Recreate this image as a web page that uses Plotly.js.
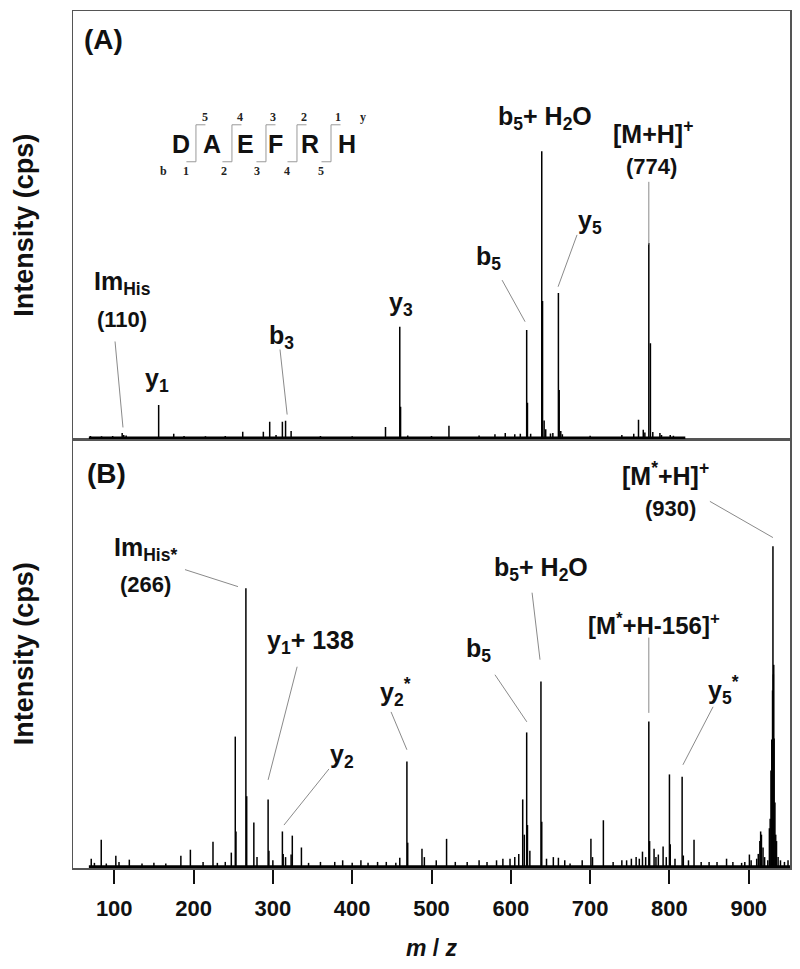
<!DOCTYPE html>
<html>
<head>
<meta charset="utf-8">
<script src="https://cdn.plot.ly/plotly-3.0.1.min.js"></script>
<style>
  html, body { margin: 0; padding: 0; background: #fff; }
  #chart { width: 800px; height: 969px; }
</style>
</head>
<body>
<div id="chart"></div>
<script>
// MS/MS spectra of DAEFRH: (A) native peptide, (B) modified peptide.
// Peak lists; intensities are relative (base peak = 100).

const mzA = [70, 84, 98, 110, 112, 115, 156, 175, 188, 215, 240, 262, 288, 296, 304, 312, 316, 323,
  360, 400, 442, 460, 461, 470, 500, 522, 560, 580, 593, 605, 612, 620, 621, 625,
  639, 640, 642, 644, 650, 653, 660, 661, 663, 665, 700, 740, 755, 761, 767, 769,
  774, 776, 779, 788, 790, 801, 805];
const intA = [0.6, 0.5, 0.6, 1.7, 1.0, 0.8, 11.4, 1.4, 0.6, 0.5, 0.6, 2.1, 2.1, 5.6, 1.0, 5.6, 5.9, 2.4,
  0.6, 0.5, 3.8, 38.7, 10.8, 0.8, 0.6, 4.2, 0.8, 1.2, 1.7, 1.2, 1.4, 37.6, 12.2, 1.4,
  100, 47.7, 6.0, 3.0, 1.5, 1.7, 50.5, 16.7, 2.4, 1.2, 0.7, 1.0, 1.4, 6.3, 2.8, 1.8,
  68, 33, 2.0, 1.7, 1.0, 1.0, 0.7];

const mzB = [71, 75, 83.6, 90, 102, 106, 119, 135, 150, 165, 184, 196, 212, 224.5, 230, 240,
  247.6, 252.6, 253.5, 266, 267, 276, 280, 294, 295, 300, 312, 313, 316, 323, 324.5, 336, 345,
  360, 378, 388, 400, 411, 420, 432, 443, 455, 460, 469, 470, 488, 491, 506, 519, 530,
  545, 560, 570, 582, 590, 599, 605, 610, 615, 617, 620, 621, 624, 638, 639, 645,
  653.6, 660, 668, 674.7, 690, 701, 703, 716.7, 729, 740, 746, 752, 758, 762, 766, 770,
  774, 775, 780.6, 783, 786, 792, 796, 800, 801, 807, 816, 817.5, 824, 831, 840, 850,
  860, 872, 880, 891, 895, 900.8, 903, 910, 912, 914, 915, 916, 918, 920, 924, 926, 927,
  928, 929, 930, 930.5, 931, 931.5, 932, 933, 934, 935, 937, 940, 945, 949.5];
const intB = [2.5, 1.2, 8.4, 1.0, 3.4, 1.5, 2.2, 1.0, 1.2, 1.0, 3.4, 5.3, 1.5, 7.8, 1.2, 1.5,
  4.4, 40.6, 11, 86.9, 22, 13.8, 3.0, 21, 5.0, 2.0, 11, 4.0, 3.0, 3.8, 9.7, 6.0, 1.2,
  1.5, 1.5, 2.0, 1.2, 2.0, 1.2, 1.5, 1.5, 1.2, 2.8, 32.8, 7.5, 5.6, 3.0, 2.0, 8.7, 1.5,
  1.5, 2.0, 1.5, 2.0, 2.5, 2.5, 3.0, 4.0, 21, 10, 41.9, 13, 5.0, 57.8, 14, 2.5,
  3.0, 2.8, 2.0, 1.0, 2.0, 8.7, 3.0, 14.5, 1.5, 2.0, 2.0, 2.5, 3.0, 2.5, 4.7, 3.0,
  45.3, 8.0, 5.6, 3.0, 3.8, 6.3, 3.0, 28.8, 7.0, 2.5, 28.1, 3.5, 2.0, 8.4, 1.5, 1.5,
  1.5, 2.5, 1.5, 1.2, 1.5, 3.8, 2.0, 2.5, 4.0, 8.0, 11, 10, 6.0, 3.0, 2.0, 12, 15,
  30, 39.7, 55, 100, 60, 63, 40, 20, 10, 8.0, 3.0, 2.0, 1.5, 2.0];

const scanA = [68, 820];
const scanB = [68, 952];
const xTicks = [100, 200, 300, 400, 500, 600, 700, 800, 900];

const sequence = ['D', 'A', 'E', 'F', 'R', 'H'];
const yIons = ['5', '4', '3', '2', '1', 'y'];
const bIons = ['b', '1', '2', '3', '4', '5'];

const FONT = 'Liberation Sans, Arial, sans-serif';
const SERIF = 'Liberation Serif, Times New Roman, serif';
const LEADER = '#8a8a8a';
const FRAME = '#555555';

// --- sticks ---------------------------------------------------------------

function sticks(mz, inten) {
  const x = [];
  const y = [];
  mz.forEach((m, i) => {
    x.push(m, m, null);
    y.push(0, inten[i], null);
  });
  return { x, y };
}

function stickTrace(mz, inten, xa, ya) {
  const s = sticks(mz, inten);
  return {
    x: s.x, y: s.y, xaxis: xa, yaxis: ya, mode: 'lines',
    line: { color: '#000', width: 1.5 }, hoverinfo: 'skip', showlegend: false,
  };
}

function baselineTrace(scan, xa, ya, width) {
  return {
    x: scan, y: [0, 0], xaxis: xa, yaxis: ya, mode: 'lines',
    line: { color: '#000', width }, hoverinfo: 'skip', showlegend: false,
  };
}

// --- labels ---------------------------------------------------------------

// [text, mz, intensity, size]
const labelsA = [
  ['(A)', 87, 138.8, 28],
  ['Im<sub>His</sub>', 110, 54, 25],
  ['(110)', 110, 41.2, 22],
  ['y<sub>1</sub>', 154, 20, 25],
  ['b<sub>3</sub>', 310.5, 35.3, 25],
  ['y<sub>3</sub>', 461.8, 46.7, 25],
  ['b<sub>5</sub>', 572.4, 62.8, 25],
  ['y<sub>5</sub>', 700, 75.4, 25],
  ['b<sub>5</sub>+ H<sub>2</sub>O', 643, 111.6, 25],
  ['[M+H]<sup>+</sup>', 779.5, 106.7, 25],
  ['(774)', 778, 94.8, 22],
];
const leadersA = [
  [101, 33.6, 111, 3.6],
  [309, 30.8, 318, 8.1],
  [589, 55, 618, 40.5],
  [683.5, 70.8, 659.6, 52.7],
  [774, 89.3, 774, 67.4],
];

const labelsB = [
  ['(B)', 89.7, 122.7, 28],
  ['Im<sub>His*</sub>', 140, 99, 25],
  ['(266)', 138.8, 88, 22],
  ['y<sub>1</sub>+ 138', 347, 70, 25],
  ['y<sub>2</sub><sup>*</sup>', 455, 54.6, 25],
  ['y<sub>2</sub>', 387.5, 34.6, 25],
  ['b<sub>5</sub>', 558.8, 67.7, 25],
  ['b<sub>5</sub>+ H<sub>2</sub>O', 638.4, 93, 25],
  ['[M<sup>*</sup>+H-156]<sup>+</sup>', 780.7, 75.8, 24],
  ['y<sub>5</sub><sup>*</sup>', 867.8, 55.2, 25],
  ['[M<sup>*</sup>+H]<sup>+</sup>', 794.5, 122.4, 25],
  ['(930)', 800.8, 111.8, 22],
];
const leadersB = [
  [189.2, 92.7, 256, 87.4],
  [330.6, 62.4, 294, 27.1],
  [449, 48.3, 469, 36.5],
  [370.7, 30.5, 314, 13],
  [626.8, 85.5, 636.8, 64.6],
  [580, 59.9, 620.2, 45.2],
  [774, 71.5, 774, 48],
  [855, 49.9, 817, 31.8],
  [851, 114, 930.5, 102.7],
];

function textAnn(row, xref, yref) {
  const [text, x, y, size] = row;
  return {
    text, x, y, xref, yref, showarrow: false,
    xanchor: 'center', yanchor: 'middle',
    font: { family: FONT, size, color: '#111', weight: 'bold' },
  };
}

function leaderShape(row, xref, yref) {
  const [x0, y0, x1, y1] = row;
  return { type: 'line', xref, yref, x0, y0, x1, y1, line: { color: LEADER, width: 1 } };
}

// --- sequence inset (panel A) ---------------------------------------------

const seqX = [184.4, 223.5, 265.2, 303, 347.2, 393.8];
const yNumX = [214.4, 258.5, 300, 339.2, 382, 413.5];
const bNumX = [162.7, 190.4, 238.3, 280, 317.8, 360.7];
const cutX = [203, 248.4, 291.3, 330.4, 373.3];

function insetAnnotations() {
  const out = [];
  sequence.forEach((s, i) => out.push({
    text: s, x: seqX[i], y: 102.5, xref: 'x2', yref: 'y2', showarrow: false,
    font: { family: FONT, size: 25, color: '#111', weight: 'bold' },
  }));
  yIons.forEach((s, i) => out.push({
    text: s, x: yNumX[i], y: 111.8, xref: 'x2', yref: 'y2', showarrow: false,
    font: { family: SERIF, size: 12, color: '#222', weight: 'bold' },
  }));
  bIons.forEach((s, i) => out.push({
    text: s, x: bNumX[i], y: 93, xref: 'x2', yref: 'y2', showarrow: false,
    font: { family: SERIF, size: 12, color: '#222', weight: 'bold' },
  }));
  return out;
}

function insetShapes() {
  return cutX.map((c) => ({
    type: 'path', xref: 'x2', yref: 'y2',
    path: `M ${c - 12} 96.3 L ${c} 96.3 L ${c} 109.2 L ${c + 12} 109.2`,
    line: { color: '#9a9a9a', width: 1 },
  }));
}

// --- layout ---------------------------------------------------------------

const frame = {
  showline: true, linecolor: FRAME, linewidth: 1.5, mirror: true,
  showgrid: false, zeroline: false,
};

const yTitle = {
  text: 'Intensity (cps)', standoff: 30,
  font: { family: FONT, size: 27, color: '#111', weight: 'bold' },
};

const layout = {
  width: 800, height: 969,
  margin: { l: 73, r: 10, t: 11, b: 101 },
  paper_bgcolor: '#fff', plot_bgcolor: '#fff',
  showlegend: false,
  xaxis: {
    ...frame, anchor: 'y', range: [48, 952],
    tickvals: xTicks, ticks: 'outside', ticklen: 14, tickwidth: 2, tickcolor: '#111',
    ticklabelstandoff: 6,
    tickfont: { family: FONT, size: 22, color: '#111', weight: 'bold' },
    title: {
      text: '<i>m</i> / <i>z</i>', standoff: 20,
      font: { family: FONT, size: 23, color: '#111', weight: 'bold' },
    },
  },
  yaxis: {
    ...frame, domain: [0, 0.5], range: [-0.4, 133.3],
    showticklabels: false, ticks: '', title: yTitle,
  },
  xaxis2: {
    ...frame, anchor: 'y2', matches: 'x', range: [48, 952],
    showticklabels: false, ticks: '',
  },
  yaxis2: {
    ...frame, domain: [0.5, 1], range: [-0.6, 148.9],
    showticklabels: false, ticks: '', title: yTitle,
  },
  annotations: [
    ...labelsA.map((r) => textAnn(r, 'x2', 'y2')),
    ...labelsB.map((r) => textAnn(r, 'x', 'y')),
    ...insetAnnotations(),
  ],
  shapes: [
    ...leadersA.map((r) => leaderShape(r, 'x2', 'y2')),
    ...leadersB.map((r) => leaderShape(r, 'x', 'y')),
    ...insetShapes(),
  ],
};

const traces = [
  baselineTrace(scanA, 'x2', 'y2', 2.5),
  stickTrace(mzA, intA, 'x2', 'y2'),
  baselineTrace(scanB, 'x', 'y', 3),
  stickTrace(mzB, intB, 'x', 'y'),
];

Plotly.newPlot('chart', traces, layout, { displayModeBar: false, staticPlot: true });
</script>
</body>
</html>
